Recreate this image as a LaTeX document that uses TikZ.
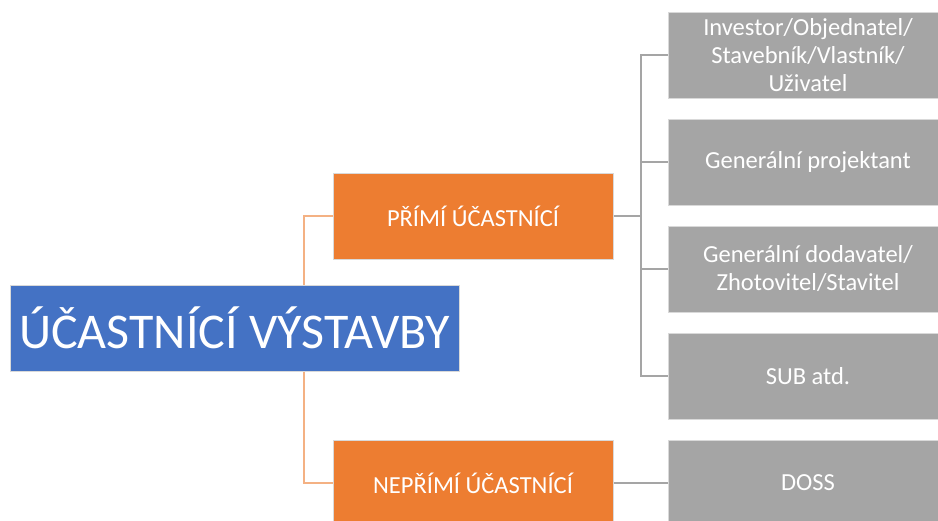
\documentclass[tikz,border=0pt]{standalone}
\usepackage{fontspec}
\setmainfont{Carlito}
\definecolor{rootblue}{HTML}{4472C4}
\definecolor{grporange}{HTML}{ED7D31}
\definecolor{leafgray}{HTML}{A5A5A5}
\definecolor{linkorange}{HTML}{F4B183}
\definecolor{linkgray}{HTML}{A5A5A5}
\definecolor{edgegray}{HTML}{D9D9D9}
\tikzset{
  box/.style={rectangle, draw=edgegray, line width=1pt, text=white, align=center, inner sep=2pt},
  rootbox/.style={box, fill=rootblue, minimum width=449pt, minimum height=86pt, font=\fontsize{50}{56}\selectfont},
  groupbox/.style={box, fill=grporange, minimum width=280pt, minimum height=86pt, font=\fontsize{24.5}{28}\selectfont},
  leafbox/.style={box, fill=leafgray, minimum width=280pt, minimum height=86pt, font=\fontsize{24.5}{28}\selectfont},
  orangelink/.style={draw=linkorange, line width=1.2pt},
  graylink/.style={draw=linkgray, line width=1.2pt},
}
\begin{document}
\begin{tikzpicture}[x=1pt, y=-1pt]
  \useasboundingbox (0,0) rectangle (938,520);
  \begin{scope}
    \clip (0,0) rectangle (938,520);
    % connector spines
    \coordinate (trunk) at (304,328);
    \coordinate (gtrunk) at (641,216);

    % nodes
    \node[rootbox] (root) at (234.5,328) {ÚČASTNÍCÍ VÝSTAVBY};
    \node[groupbox] (direct) at (473,216) {PŘÍMÍ ÚČASTNÍCÍ};
    \node[groupbox] (indirect) at (473,483) {NEPŘÍMÍ ÚČASTNÍCÍ};
    \node[leafbox] (investor) at (808,55) {Investor/Objednatel/\\Stavebník/Vlastník/\\Uživatel};
    \node[leafbox] (designer) at (808,162) {Generální projektant};
    \node[leafbox] (contractor) at (808,269) {Generální dodavatel/\\Zhotovitel/Stavitel};
    \node[leafbox] (sub) at (808,376) {SUB atd.};
    \node[leafbox] (doss) at (808,483) {DOSS};

    % root to groups
    \draw[orangelink] (trunk |- root.north) |- (direct.west);
    \draw[orangelink] (trunk |- root.south) |- (indirect.west);

    % direct participants to leaves
    \draw[graylink] (direct.east) -- (gtrunk);
    \draw[graylink] (investor.west) -| (gtrunk);
    \draw[graylink] (designer.west) -| (gtrunk);
    \draw[graylink] (contractor.west) -| (gtrunk);
    \draw[graylink] (sub.west) -| (gtrunk);

    % indirect participants to leaf
    \draw[graylink] (indirect.east) -- (doss.west);
  \end{scope}
\end{tikzpicture}
\end{document}
